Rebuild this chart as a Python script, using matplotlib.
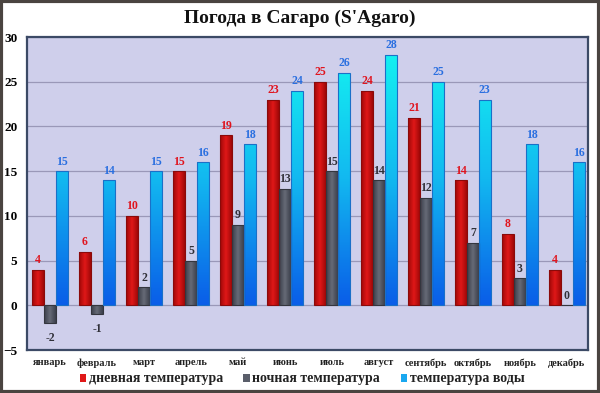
import matplotlib
matplotlib.use("Agg")
import matplotlib.pyplot as plt
import numpy as np
from matplotlib.colors import LinearSegmentedColormap
from matplotlib.patches import Rectangle

months = ['январь', 'февраль', 'март', 'апрель', 'май', 'июнь', 'июль',
          'август', 'сентябрь', 'октябрь', 'ноябрь', 'декабрь']
day_temp = [4, 6, 10, 15, 19, 23, 25, 24, 21, 14, 8, 4]
night_temp = [-2, -1, 2, 5, 9, 13, 15, 14, 12, 7, 3, 0]
water_temp = [15, 14, 15, 16, 18, 24, 26, 28, 25, 23, 18, 16]

plt.rcParams['font.family'] = ['Liberation Serif', 'DejaVu Serif']

fig = plt.figure(figsize=(6, 3.93), dpi=100)
fig.patch.set_facecolor('white')
ax = fig.add_axes([0.045, 0.1094, 0.935, 0.7964])
ax.set_facecolor('#cfcfeb')

x = np.arange(len(months))
w = 0.255
ylo, yhi = -5, 30

cmaps = {
    'day': LinearSegmentedColormap.from_list('d', ['#a00808', '#e01818', '#a00808']),
    'night': LinearSegmentedColormap.from_list('n', ['#3c404c', '#666a76', '#3c404c']),
    'water': LinearSegmentedColormap.from_list('wt', ['#0a5ee8', '#12b8f0', '#14f0f0']),
}
edge = {'day': '#8a0a0a', 'night': '#34363e', 'water': '#1a70c8'}
lbl_col = {'day': '#e0141e', 'night': '#303038', 'water': '#2a6fe0'}


def gradient_bars(xs, vals, kind):
    bars = ax.bar(xs, vals, w, color='none', edgecolor=edge[kind], linewidth=0.8, zorder=3)
    for b, v in zip(bars, vals):
        x0, y0 = b.get_x(), b.get_y()
        bw, bh = b.get_width(), b.get_height()
        if kind == 'water':
            grad = np.linspace(0, 1, 100).reshape(-1, 1)
            img = np.repeat(grad, 10, axis=1)
        else:
            img = np.tile(np.linspace(0, 1, 30), (10, 1))
        top = max(y0, y0 + bh)
        bot = min(y0, y0 + bh)
        if kind == 'water':
            ext = [x0, x0 + bw, 0, max(water_temp)]
        else:
            ext = [x0, x0 + bw, bot, top]
        im = ax.imshow(img, cmap=cmaps[kind], extent=ext, origin='lower',
                       aspect='auto', zorder=2.5)
        clip = Rectangle((x0, bot), bw, top - bot, transform=ax.transData)
        im.set_clip_path(clip)
        # подпись значения
        if v >= 0:
            ax.text(x0 + bw / 2, top + 0.4, str(v), ha='center', va='bottom',
                    fontsize=8.5, fontweight='bold', color=lbl_col[kind], zorder=5)
        else:
            ax.text(x0 + bw / 2, bot - 1.0, str(v), ha='center', va='top',
                    fontsize=8.5, fontweight='bold', color=lbl_col[kind], zorder=5)


gradient_bars(x - w, day_temp, 'day')
gradient_bars(x, night_temp, 'night')
gradient_bars(x + w, water_temp, 'water')

ax.set_xlim(-0.49, 11.45)
ax.set_ylim(ylo, yhi)
ax.set_yticks(range(-5, 31, 5))
ax.yaxis.grid(True, color='#9a98b8', linewidth=0.9, zorder=1)
ax.set_axisbelow(True)
ax.set_xticks(x)
ax.set_xticklabels(months, fontsize=7.5, fontweight='bold', color='#222222')
ax.tick_params(axis='y', labelsize=9.5, length=0, pad=7)
ax.tick_params(axis='x', length=0, pad=6)
for lbl in ax.get_yticklabels():
    lbl.set_fontweight('bold')
for s in ax.spines.values():
    s.set_color('#3c4a66')
    s.set_linewidth(1.6)

fig.text(0.5, 0.953, "Погода в Сагаро (S'Agaro)", ha='center', va='center',
         fontsize=14, fontweight='bold', color='#111111')

# легенда
items = [('дневная температура', '#e01818'), ('ночная температура', '#5a5e6a'),
         ('температура воды', '#1aa8f0')]
lx = [0.133, 0.405, 0.668]
for (txt, c), px in zip(items, lx):
    fig.patches.append(Rectangle((px, 0.027), 0.011, 0.022, transform=fig.transFigure,
                                 facecolor=c, edgecolor='none'))
    fig.text(px + 0.015, 0.038, txt, ha='left', va='center', fontsize=10,
             fontweight='bold', color='#222222')

# рамка
fig.patches.append(Rectangle((0.002, 0.003), 0.996, 0.994, transform=fig.transFigure,
                             facecolor='none', edgecolor='#4a4440', linewidth=3))

fig.savefig('out.png', dpi=100)
